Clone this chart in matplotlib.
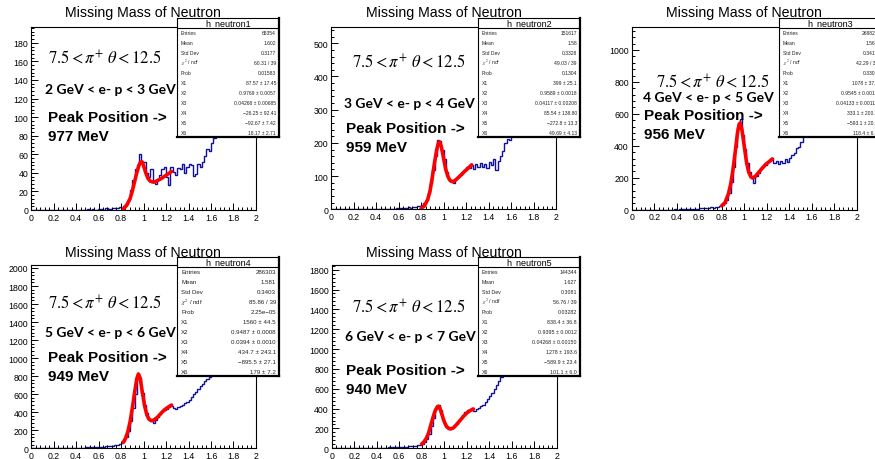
import matplotlib
matplotlib.use("Agg")
import matplotlib.pyplot as plt
from matplotlib.ticker import MultipleLocator, FuncFormatter
import numpy as np

plt.rcParams['font.family'] = ['Liberation Sans', 'DejaVu Sans']
plt.rcParams['mathtext.fontset'] = 'stix'

W, H = 875, 460

# histogram bins: 0.02 wide from 0 to 2
binEdges = np.linspace(0, 2, 101)

counts1 = [0, 0, 0, 0, 0, 0, 0, 0, 0, 0, 0, 0, 0, 0, 0, 0, 0, 0, 0, 0,
           0, 0, 0, 0, 0, 1, 0, 1, 0, 0, 1, 1, 0, 2, 1, 1, 2, 2, 2, 3,
           2, 4, 6, 12, 22, 32, 44, 48, 60, 52, 52, 40, 36, 44, 30, 28, 33, 38, 44, 46,
           36, 27, 46, 41, 38, 45, 44, 49, 40, 46, 50, 48, 37, 39, 50, 46, 52, 58, 66, 64,
           72, 77, 80, 95, 110, 130, 150, 170, 190, 210, 230, 250, 270, 290, 300, 310, 320, 330, 340, 350]
counts2 = [0, 0, 0, 0, 0, 0, 0, 0, 0, 0, 0, 0, 0, 0, 0, 0, 0, 0, 0, 0,
           0, 0, 1, 0, 1, 1, 2, 1, 2, 3, 3, 4, 3, 5, 6, 5, 7, 8, 10, 9,
           12, 18, 28, 48, 78, 118, 160, 210, 205, 180, 150, 112, 92, 88, 78, 90, 96, 102, 112, 118,
           128, 125, 134, 122, 136, 126, 140, 128, 136, 124, 142, 132, 152, 118, 146, 162, 175, 200, 212, 208,
           222, 230, 250, 280, 310, 340, 370, 400, 430, 460, 490, 510, 530, 550, 570, 590, 600, 610, 620, 630]
counts3 = [0, 0, 0, 0, 0, 0, 0, 0, 0, 0, 0, 0, 0, 0, 0, 1, 0, 1, 1, 2,
           1, 2, 2, 3, 3, 4, 3, 5, 6, 5, 8, 9, 8, 10, 12, 14, 13, 16, 18, 22,
           28, 40, 62, 105, 175, 270, 390, 515, 570, 470, 380, 290, 235, 205, 170, 212, 228, 255, 268, 282,
           298, 308, 322, 292, 302, 285, 308, 292, 315, 300, 325, 345, 352, 385, 392, 425, 462, 500, 540, 580,
           620, 660, 700, 740, 780, 820, 860, 900, 940, 980, 1010, 1040, 1070, 1100, 1120, 1140, 1160, 1180, 1200, 1220]
counts4 = [0, 0, 0, 0, 0, 0, 0, 0, 0, 0, 1, 2, 1, 2, 3, 3, 4, 5, 4, 6,
           6, 7, 8, 7, 9, 10, 11, 12, 12, 14, 15, 16, 18, 20, 22, 25, 28, 32, 38, 48,
           62, 85, 125, 195, 300, 450, 600, 810, 780, 610, 480, 390, 330, 305, 282, 318, 345, 378, 412, 428,
           440, 458, 472, 448, 440, 458, 468, 478, 498, 518, 540, 568, 598, 628, 662, 690, 712, 742, 770, 792,
           812, 850, 900, 960, 1020, 1090, 1160, 1230, 1300, 1370, 1440, 1500, 1560, 1620, 1680, 1740, 1800, 1850, 1900, 1950]
counts5 = [0, 0, 0, 0, 0, 0, 0, 0, 0, 0, 0, 1, 1, 2, 2, 3, 3, 4, 4, 5,
           5, 6, 7, 7, 8, 9, 9, 10, 11, 12, 13, 14, 15, 17, 19, 21, 23, 26, 30, 36,
           44, 62, 92, 145, 225, 310, 395, 432, 385, 295, 240, 212, 198, 202, 218, 248, 272, 298, 332, 368,
           385, 388, 402, 378, 392, 405, 428, 440, 468, 498, 528, 560, 598, 640, 678, 718, 760, 800, 850, 900,
           950, 1000, 1050, 1100, 1150, 1200, 1250, 1300, 1350, 1400, 1450, 1500, 1550, 1600, 1650, 1700, 1750, 1800, 1850, 1900]

# fit curves
fitX1 = [0.82, 0.85, 0.88, 0.90, 0.92, 0.94, 0.96, 0.97, 0.984, 0.99, 1.00, 1.02, 1.04, 1.06, 1.087, 1.10, 1.13, 1.16, 1.19, 1.22, 1.25]
fitY1 = [1, 5, 12, 20, 30, 40, 48, 51, 52, 51.5, 48, 40, 34, 31, 30, 30.3, 32, 34, 36.5, 39, 41.5]
fitX2 = [0.80, 0.83, 0.86, 0.88, 0.90, 0.92, 0.94, 0.955, 0.965, 0.98, 1.00, 1.02, 1.04, 1.06, 1.08, 1.10, 1.13, 1.16, 1.19, 1.22, 1.25]
fitY2 = [2, 10, 30, 55, 95, 140, 180, 200, 203, 190, 155, 120, 98, 86, 83, 86, 95, 105, 115, 124, 134]
fitX3 = [0.80, 0.83, 0.86, 0.88, 0.90, 0.92, 0.94, 0.955, 0.965, 0.98, 1.00, 1.02, 1.04, 1.06, 1.075, 1.10, 1.13, 1.16, 1.19, 1.22, 1.25]
fitY3 = [25, 45, 100, 160, 250, 360, 480, 535, 543, 500, 400, 300, 235, 205, 198, 210, 235, 260, 283, 300, 318]
fitX4 = [0.82, 0.84, 0.86, 0.88, 0.90, 0.92, 0.94, 0.955, 0.97, 0.99, 1.01, 1.03, 1.05, 1.07, 1.09, 1.12, 1.15, 1.18, 1.21, 1.25]
fitY4 = [66, 110, 180, 290, 440, 610, 770, 824, 780, 620, 470, 370, 320, 307, 312, 340, 380, 420, 450, 480]
fitX5 = [0.80, 0.82, 0.84, 0.86, 0.88, 0.90, 0.92, 0.94, 0.95, 0.96, 0.98, 1.00, 1.02, 1.04, 1.055, 1.08, 1.11, 1.14, 1.17, 1.20, 1.23, 1.26]
fitY5 = [44, 65, 100, 150, 230, 310, 380, 420, 423, 410, 340, 270, 220, 200, 195, 205, 240, 280, 320, 355, 380, 396]

histNames = ["h_neutron1", "h_neutron2", "h_neutron3", "h_neutron4", "h_neutron5"]
momentumLabels = ["2 GeV < e- p < 3 GeV", "3 GeV < e- p < 4 GeV", "4 GeV < e- p < 5 GeV",
                  "5 GeV < e- p < 6 GeV", "6 GeV < e- p < 7 GeV"]
peakLabels = ["977 MeV", "959 MeV", "956 MeV", "949 MeV", "940 MeV"]

statLabels = ["Entries", "Mean", "Std Dev", r"$\chi^2$ / ndf", "Prob", "X1", "X2", "X3", "X4", "X5", "X6"]
stats1 = ["65354", "1.602", "0.3177", "60.31 / 39", "0.01583", "87.57 ± 17.45", "0.9769 ± 0.0057",
          "0.04268 ± 0.00685", "−26.25 ± 92.41", "−92.67 ± 7.42", "18.17 ± 2.71"]
stats2 = ["151617", "1.58", "0.3328", "49.03 / 39", "0.1304", "399 ± 25.1", "0.9589 ± 0.0018",
          "0.04117 ± 0.00208", "85.54 ± 138.80", "−272.8 ± 13.3", "49.69 ± 4.13"]
stats3 = ["268826", "1.565", "0.3411", "42.29 / 39", "0.3308", "1078 ± 37.9", "0.9545 ± 0.0010",
          "0.04133 ± 0.00118", "333.1 ± 200.5", "−593.1 ± 20.5", "118.4 ± 6.2"]
stats4 = ["286303", "1.581", "0.3403", "85.86 / 39", "2.25e−05", "1560 ± 44.5", "0.9487 ± 0.0008",
          "0.0394 ± 0.0010", "434.7 ± 243.1", "−895.5 ± 27.1", "179 ± 7.2"]
stats5 = ["144344", "1.627", "0.3081", "56.76 / 39", "0.03282", "838.4 ± 36.8", "0.9395 ± 0.0012",
          "0.04268 ± 0.00150", "1278 ± 193.6", "−589.9 ± 23.4", "101.1 ± 6.0"]

yMax = [197, 549, 1142, 2033, 1847]
yMajor = [20, 100, 200, 200, 200]

# layout in pixels: (left, top, right, bottom)
frames = [(31, 28, 256, 211), (331, 28, 556, 210.3), (631.7, 28.3, 856.7, 210.7),
          (31, 266, 256, 449.3), (331.7, 266, 556.7, 449.3)]
statBoxes = [(177, 19, 279, 138), (478, 19, 580, 138), (779, 19, 881, 138),
             (177, 258, 279, 377), (478, 258, 580, 377)]
titleCenters = [(143, 13.3), (444, 13.3), (744, 13.3), (143, 252.7), (444, 252.7)]
thetaPos = [(48, 58), (352, 62), (656, 82), (48, 302.7), (352, 307)]
momentumPos = [(45, 90), (344, 104), (643, 98), (45, 333), (345, 336.7)]
peakPos = [(48, 118), (346, 129), (644, 116), (48, 357.7), (346, 371)]
mevPos = [(48, 137), (346, 148), (644, 135), (48, 376.7), (346, 390)]
statFont = [3.6, 3.6, 3.6, 4.4, 3.8]


def dessinerPanneau(fig, frame, counts, fitX, fitY, ymax, ymajor):
    left, top, right, bottom = frame
    ax = fig.add_axes([left / W, 1 - bottom / H, (right - left) / W, (bottom - top) / H])
    ax.stairs(counts, binEdges, baseline=None, color='#10109a', lw=1.0)
    ax.plot(fitX, fitY, color='red', lw=2.6, solid_capstyle='round')
    ax.set_xlim(0, 2)
    ax.set_ylim(0, ymax)
    ax.xaxis.set_major_locator(MultipleLocator(0.2))
    ax.xaxis.set_minor_locator(MultipleLocator(0.04))
    ax.yaxis.set_major_locator(MultipleLocator(ymajor))
    ax.yaxis.set_minor_locator(MultipleLocator(ymajor / 5))
    fmt = FuncFormatter(lambda v, p: f"{v:g}")
    ax.xaxis.set_major_formatter(fmt)
    ax.yaxis.set_major_formatter(fmt)
    ax.tick_params(which='both', direction='in', top=False, right=False, labelsize=6.3, width=0.7, pad=2)
    ax.tick_params(which='major', length=5)
    ax.tick_params(which='minor', length=2.5)
    for s in ax.spines.values():
        s.set_linewidth(0.8)
    return ax


def dessinerStats(fig, box, name, values, fontsize):
    left, top, right, bottom = box
    bx = fig.add_axes([left / W, 1 - bottom / H, (right - left) / W, (bottom - top) / H], zorder=5)
    bx.set_xlim(0, 1)
    bx.set_ylim(bottom - top, 0)
    bx.set_xticks([])
    bx.set_yticks([])
    for s in bx.spines.values():
        s.set_linewidth(0.8)
    bx.spines['right'].set_linewidth(1.6)
    bx.spines['bottom'].set_linewidth(1.6)
    bx.axhline(9.7, color='black', lw=0.8)
    bx.text(0.5, 5.0, name, ha='center', va='center', fontsize=6.5)
    for i, (lab, val) in enumerate(zip(statLabels, values)):
        y = 14.7 + 9.94 * i
        bx.text(0.04, y, lab, ha='left', va='center', fontsize=fontsize, color='#222222')
        bx.text(0.97, y, val, ha='right', va='center', fontsize=fontsize, color='#222222')


fig = plt.figure(figsize=(W / 100, H / 100), dpi=100)

allCounts = [counts1, counts2, counts3, counts4, counts5]
allFitX = [fitX1, fitX2, fitX3, fitX4, fitX5]
allFitY = [fitY1, fitY2, fitY3, fitY4, fitY5]
allStats = [stats1, stats2, stats3, stats4, stats5]

for k in range(5):
    dessinerPanneau(fig, frames[k], allCounts[k], allFitX[k], allFitY[k], yMax[k], yMajor[k])
    dessinerStats(fig, statBoxes[k], histNames[k], allStats[k], statFont[k])

    cx, cy = titleCenters[k]
    fig.text(cx / W, 1 - cy / H, "Missing Mass of Neutron", ha='center', va='center', fontsize=10.2)
    x, y = thetaPos[k]
    fig.text(x / W, 1 - y / H, r"$7.5 < \pi^{+}\ \theta < 12.5$", ha='left', va='center', fontsize=12)
    x, y = momentumPos[k]
    fig.text(x / W, 1 - y / H, momentumLabels[k], ha='left', va='center', fontsize=10,
             fontweight='bold', family=['Lato', 'DejaVu Sans'])
    x, y = peakPos[k]
    fig.text(x / W, 1 - y / H, "Peak Position ->", ha='left', va='center', fontsize=11, fontweight='bold')
    x, y = mevPos[k]
    fig.text(x / W, 1 - y / H, peakLabels[k], ha='left', va='center', fontsize=11, fontweight='bold')

fig.savefig("out.png", dpi=100)
